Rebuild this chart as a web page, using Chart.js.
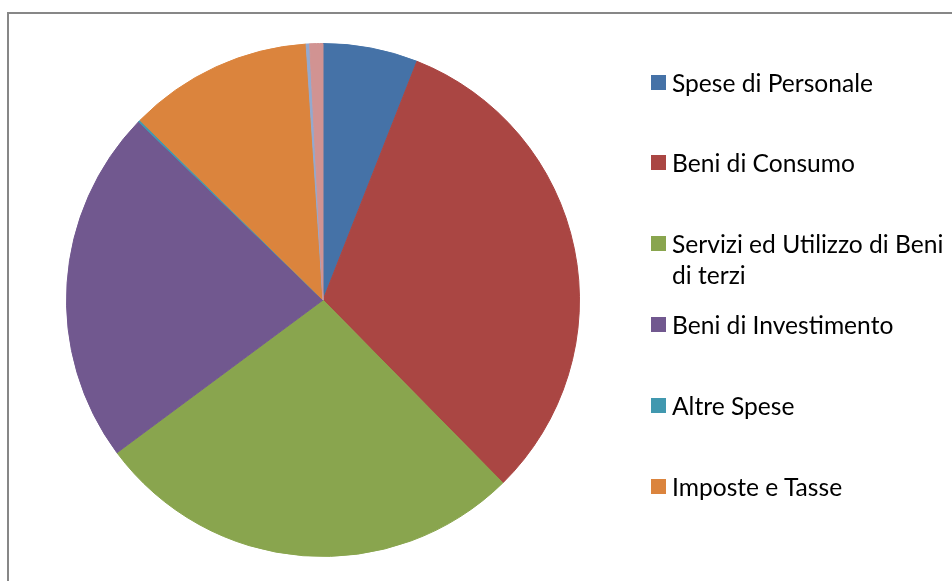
<!DOCTYPE html>
<html>
<head>
<meta charset="utf-8">
<script src="https://cdn.jsdelivr.net/npm/chart.js@4/dist/chart.umd.min.js"></script>
<style>
    body { margin: 0; background: #fff; overflow: hidden; width: 952px; height: 581px; position: relative; }
    #frame { position: absolute; left: 7px; top: 12px; width: 1000px; height: 700px; border: 2px solid #878787; }
    #wrap { position: absolute; left: 0; top: 0; width: 952px; height: 581px; }
    #legend { position: absolute; left: 651px; top: 0; width: 295px; font-family: Lato, sans-serif; font-size: 24.6px; color: #000; }
    .item { position: absolute; left: 0; width: 295px; }
    .box { position: absolute; left: 0; top: 8px; width: 15px; height: 15px; }
    .txt { position: absolute; left: 21px; top: 0; width: 274px; line-height: 31px; }
</style>
</head>
<body>
<div id="frame"></div>
<div id="wrap"><canvas id="torta" width="952" height="581"></canvas></div>
<div id="legend"></div>
<script>
// voci di spesa
let voci = [
    'Spese di Personale',
    'Beni di Consumo',
    'Servizi ed Utilizzo di Beni di terzi',
    'Beni di Investimento',
    'Altre Spese',
    'Imposte e Tasse',
    'Oneri Finanziari',
    'Rimborsi'
];
// quote in percentuale
let quote = [5.97, 31.67, 27.22, 22.39, 0.12, 11.6, 0.22, 0.83];
let colori = ['#4572A7', '#AA4643', '#89A54E', '#71588F', '#4198AF', '#DB843D', '#93A9CF', '#D19392'];
// voci che compaiono in legenda
let vociLegenda = 6;

let ctx = document.getElementById('torta').getContext('2d');
let grafico = new Chart(ctx, {
    type: 'pie',
    data: {
        labels: voci,
        datasets: [{
            data: quote,
            backgroundColor: colori,
            borderColor: colori,
            borderWidth: 1
        }]
    },
    options: {
        responsive: false,
        animation: false,
        layout: {
            padding: { left: 66, top: 43, right: 372, bottom: 24 }
        },
        plugins: {
            legend: { display: false },
            tooltip: { enabled: false }
        }
    }
});

// legenda html, costruita dalle voci del grafico
let legenda = document.getElementById('legend');
let items = Chart.overrides.pie.plugins.legend.labels.generateLabels(grafico);
for (let i = 0; i < items.length && i < vociLegenda; i++) {
    let el = document.createElement('div');
    el.className = 'item';
    el.style.top = (82 - 15.5 + i * 80.8) + 'px';
    el.innerHTML = "<div class='box' style='background:" + items[i].fillStyle + "'></div>" +
        "<div class='txt'>" + items[i].text + "</div>";
    legenda.appendChild(el);
}
</script>
</body>
</html>
